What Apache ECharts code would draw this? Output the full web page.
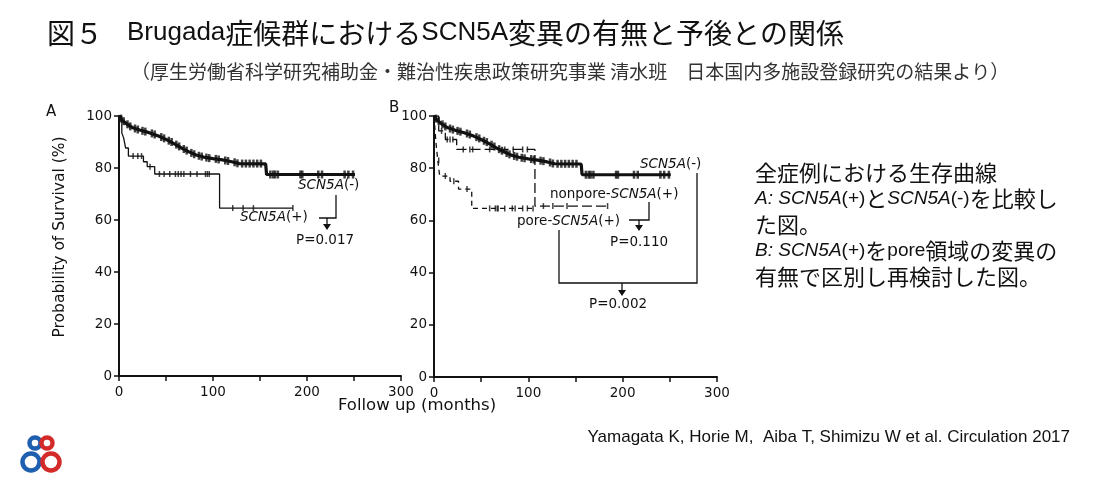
<!DOCTYPE html>
<html>
<head>
<meta charset="utf-8">
<script src="https://cdn.jsdelivr.net/npm/echarts@6/dist/echarts.min.js"></script>
<style>
  html, body { margin: 0; background: #fff; }
  #main { width: 1120px; height: 492px; }
</style>
</head>
<body>
<div id="main"></div>
<script>
// tick labels
const xLabels = [0, 100, 200, 300]
const yLabels = [0, 20, 40, 60, 80, 100]

// Kaplan-Meier curves: [months, survival %]
// SCN5A(-) (same curve in A and B)
const negCurve = [[0,100],[3,98.5],[8,97],[14,95.6],[22,94.6],[32,93.6],[42,92.3],[50,91],[58,89.5],[66,87.8],[74,86.3],[82,85],[90,84.2],[100,83.6],[110,83.1],[120,82.4],[128,81.7],[156,81.6],[157,77.5],[251,77.5]]
const negCensor = [[2,99],[5,98],[9,96.8],[12,96],[17,95.2],[20,94.8],[25,94.3],[28,94],[35,93.3],[38,92.9],[45,91.9],[48,91.4],[53,90.5],[56,90],[61,89],[64,88.3],[69,87.3],[72,86.7],[77,85.8],[80,85.3],[85,84.7],[88,84.4],[93,84],[96,83.8],[103,83.5],[106,83.3],[113,82.9],[116,82.7],[123,82.2],[126,81.8],[131,81.7],[135,81.7],[139,81.7],[143,81.7],[147,81.7],[151,81.7],[161,77.5],[164,77.5],[166,77.5],[169,77.5],[193,77.5],[195,77.5],[212,77.5],[216,77.5],[240,77.5],[244,77.5],[249,77.5]]

// SCN5A(+) (panel A)
const posCurve = [[0,100],[3,93.5],[5,91.5],[7,87.7],[10,84.6],[26,82.4],[30,80.5],[38,77.7],[107,64.6],[185,64.6]]
const posCensor = [[15,84.6],[20,84.6],[24,84.6],[33,80.5],[43,77.7],[48,77.7],[54,77.7],[60,77.7],[63,77.7],[66,77.7],[69,77.7],[76,77.7],[83,77.7],[92,77.7],[94,77.7],[96,77.7],[121,64.6],[132,64.6],[143,64.6],[185,64.6]]

// nonpore-SCN5A(+) (panel B)
const nonporeCurve = [[0,100],[5,94.3],[12,91],[24,87.2],[107,65.5],[185,65.5]]
const nonporeCensor = [[8,94.3],[14,91],[17,91],[20,91],[31,87.2],[38,87.2],[41,87.2],[59,87.2],[75,87.2],[84,87.2],[94,87.2],[99,87.2],[116,65.5],[126,65.5],[141,65.5],[184,65.5]]

// pore-SCN5A(+) (panel B)
const poreCurve = [[0,100],[2,90],[4,83],[6,77],[17,75],[26,72],[40,64.6],[105,64.6]]
const poreCensor = [[5,83],[12,77],[21,75],[35,72],[59,64.6],[65,64.6],[67,64.6],[68,64.6],[75,64.6],[83,64.6],[86,64.6],[94,64.6],[99,64.6],[105,64.6]]

const INK = '#111'
const AXFONT = 'DejaVu Sans'
const JP = '"Noto Sans CJK JP"'
const LAT = '"Liberation Sans Narrow", "Liberation Sans"'

function xAx(gi) {
  return {
    type: 'value', gridIndex: gi, min: 0, max: 300, interval: 50,
    axisLine: { lineStyle: { color: INK, width: 2 } },
    axisTick: { length: 5, lineStyle: { color: INK, width: 1.5 } },
    axisLabel: {
      formatter: v => xLabels.includes(v) ? String(v) : '',
      fontFamily: AXFONT, fontSize: 13.5, color: INK, margin: 9
    },
    splitLine: { show: false }
  }
}
function yAx(gi) {
  return {
    type: 'value', gridIndex: gi, min: 0, max: 100, interval: 20,
    axisLine: { show: true, lineStyle: { color: INK, width: 2 } },
    axisTick: { show: true, length: 5, lineStyle: { color: INK, width: 1.5 } },
    axisLabel: {
      formatter: v => yLabels.includes(v) ? String(v) : '',
      fontFamily: AXFONT, fontSize: 13.5, color: INK, margin: 7
    },
    splitLine: { show: false }
  }
}
function curve(gi, data, width, dash) {
  return {
    type: 'line', xAxisIndex: gi, yAxisIndex: gi, data: data,
    step: dash === 'smooth' ? false : 'end', showSymbol: false, silent: true,
    lineStyle: { color: INK, width: width, type: dash === 'smooth' ? 'solid' : dash }
  }
}
function censor(gi, data, size) {
  return {
    type: 'scatter', xAxisIndex: gi, yAxisIndex: gi, data: data, silent: true,
    symbol: 'rect', symbolSize: size, itemStyle: { color: INK }
  }
}

// annotation helpers
function txt(x, y, text, rich, extra) {
  return {
    type: 'text', x: x, y: y, silent: true,
    style: Object.assign({ text: text, fill: INK, textVerticalAlign: 'middle', rich: rich || {} }, extra || {})
  }
}
function pl(points) {
  return { type: 'polyline', silent: true, shape: { points: points }, style: { stroke: INK, lineWidth: 1.3, fill: null } }
}
function arrow(x, y1, y2) {
  return [
    { type: 'line', silent: true, shape: { x1: x, y1: y1, x2: x, y2: y2 - 4 }, style: { stroke: INK, lineWidth: 1.3 } },
    { type: 'polygon', silent: true, shape: { points: [[x - 4, y2 - 6], [x + 4, y2 - 6], [x, y2]] }, style: { fill: INK } }
  ]
}
function ring(cx, cy, r, color) {
  return { type: 'circle', silent: true, shape: { cx: cx, cy: cy, r: r }, style: { fill: null, stroke: color, lineWidth: 4.5 } }
}
const lab = {
  i: { fontFamily: AXFONT, fontSize: 13.5, fontStyle: 'italic', fill: INK },
  n: { fontFamily: AXFONT, fontSize: 13.5, fill: INK }
}
const sideLat = { fontFamily: LAT, fontSize: 19, fill: '#111' }
const side = {
  c: { fontFamily: JP, fontSize: 22, fill: '#111' },
  l: sideLat,
  i: Object.assign({}, sideLat, { fontStyle: 'italic' })
}

const chart = echarts.init(document.getElementById('main'))
chart.setOption({
  animation: false,
  grid: [
    { left: 119, top: 116, width: 282, height: 260 },
    { left: 434, top: 116, width: 283, height: 261 }
  ],
  xAxis: [xAx(0), xAx(1)],
  yAxis: [yAx(0), yAx(1)],
  series: [
    curve(0, negCurve, 3.2, 'smooth'),
    censor(0, negCensor, [2.5, 8]),
    curve(0, posCurve, 1.3, 'solid'),
    censor(0, posCensor, [1.5, 6]),
    curve(1, negCurve, 3.2, 'smooth'),
    censor(1, negCensor, [2.5, 8]),
    curve(1, nonporeCurve, 1.3, [10, 4]),
    censor(1, nonporeCensor, [1.5, 6]),
    curve(1, poreCurve, 1.3, [5, 4]),
    censor(1, poreCensor, [1.5, 6])
  ],
  graphic: [
    // title
    txt(47, 33, '図５', null, { font: '28px ' + JP, fill: '#111' }),
    txt(127, 33, '{l|Brugada}{c|症候群における}{l|SCN5A}{c|変異の有無と予後との関係}', {
      c: { fontFamily: JP, fontSize: 28, fill: '#111' },
      l: { fontFamily: LAT, fontSize: 26, fill: '#111' }
    }),
    txt(131, 72, '（厚生労働省科学研究補助金・難治性疾患政策研究事業 清水班　日本国内多施設登録研究の結果より）', null, { font: '19px ' + JP, fill: '#333' }),
    // panel letters
    txt(46, 112, 'A', null, { font: '15px ' + AXFONT }),
    txt(389, 108, 'B', null, { font: '15px ' + AXFONT }),
    // axis names
    { type: 'text', x: 60, y: 237, rotation: Math.PI / 2, silent: true,
      style: { text: 'Probability of Survival (%)', font: '15.5px ' + AXFONT, fill: INK, textAlign: 'center', textVerticalAlign: 'middle' } },
    txt(417, 406, 'Follow up (months)', null, { font: '16.5px ' + AXFONT, textAlign: 'center' }),
    // panel A annotations
    txt(298, 185, '{i|SCN5A}{n|(-)}', lab),
    txt(240, 217, '{i|SCN5A}{n|(+)}', lab),
    pl([[336, 195], [336, 218], [319, 218]]),
    ...arrow(327, 218, 230),
    txt(296, 240, 'P=0.017', null, { font: '13.5px ' + AXFONT }),
    // panel B annotations
    txt(640, 164, '{i|SCN5A}{n|(-)}', lab),
    txt(550, 194, '{n|nonpore-}{i|SCN5A}{n|(+)}', lab),
    txt(517, 221, '{n|pore-}{i|SCN5A}{n|(+)}', lab),
    pl([[649, 202], [649, 220], [629, 220]]),
    ...arrow(639, 220, 231),
    txt(610, 242, 'P=0.110', null, { font: '13.5px ' + AXFONT }),
    pl([[697, 173], [697, 283], [559, 283], [559, 230]]),
    ...arrow(622, 283, 296),
    txt(589, 304, 'P=0.002', null, { font: '13.5px ' + AXFONT }),
    // side notes
    txt(755, 173, '{c|全症例における生存曲線}', side),
    txt(755, 199, '{i|A: SCN5A}{l|(+)}{c|と}{i|SCN5A}{l|(-)}{c|を比較し}', side),
    txt(755, 225, '{c|た図。}', side),
    txt(755, 251, '{i|B: SCN5A}{l|(+)}{c|を}{l|pore}{c|領域の変異の}', side),
    txt(755, 277, '{c|有無で区別し再検討した図。}', side),
    // citation
    txt(1070, 437, 'Yamagata K, Horie M,  Aiba T, Shimizu W et al. Circulation 2017', null,
      { font: '17px ' + LAT, fill: '#111', textAlign: 'right' }),
    // logo
    ring(35, 443, 5.5, '#1f5fb0'),
    ring(31, 462, 8.5, '#1f5fb0'),
    ring(47, 443, 5.5, '#d42a2a'),
    ring(51, 462, 8.5, '#d42a2a')
  ]
})
</script>
</body>
</html>
